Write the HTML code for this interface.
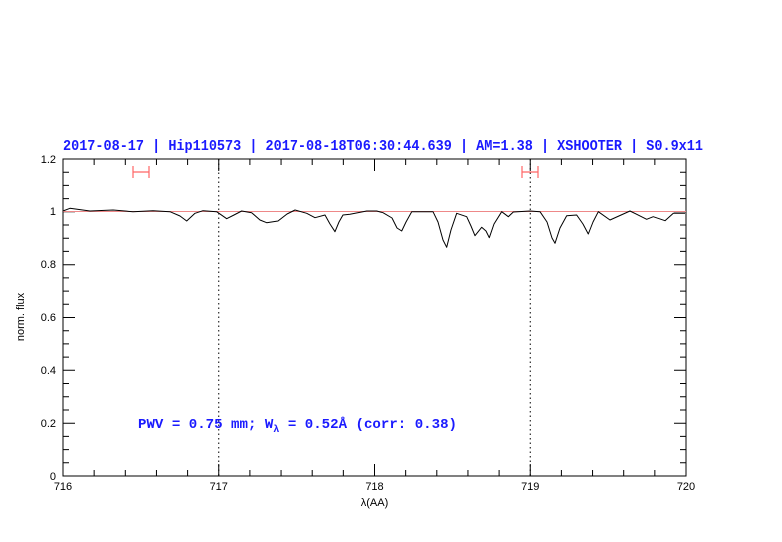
<!DOCTYPE html>
<html><head><meta charset="utf-8"><style>body{margin:0;background:#fff}svg{display:block}</style></head><body>
<svg width="782" height="542" xmlns="http://www.w3.org/2000/svg" font-family="Liberation Sans, sans-serif">
<rect width="782" height="542" fill="#fff"/>
<text x="63" y="150" fill="#1a1aff" font-family="Liberation Mono, monospace" font-size="14.5" font-weight="bold" textLength="640" lengthAdjust="spacingAndGlyphs">2017-08-17 | Hip110573 | 2017-08-18T06:30:44.639 | AM=1.38 | XSHOOTER | S0.9x11</text>
<g stroke="#000" stroke-width="1" fill="none">
<rect x="63" y="159" width="623" height="317"/>
<path id="xt" d="M63,476v-12M218.75,476v-12M374.5,476v-12M530.25,476v-12M686,476v-12M63,159v12M218.75,159v12M374.5,159v12M530.25,159v12M686,159v12"/>
<path d="M94.15,476v-6M125.3,476v-6M156.45,476v-6M187.6,476v-6M249.9,476v-6M281.05,476v-6M312.2,476v-6M343.35,476v-6M405.65,476v-6M436.8,476v-6M467.95,476v-6M499.1,476v-6M561.4,476v-6M592.55,476v-6M623.7,476v-6M654.85,476v-6M94.15,159v6M125.3,159v6M156.45,159v6M187.6,159v6M249.9,159v6M281.05,159v6M312.2,159v6M343.35,159v6M405.65,159v6M436.8,159v6M467.95,159v6M499.1,159v6M561.4,159v6M592.55,159v6M623.7,159v6M654.85,159v6"/>
<path d="M63,476h12M63,423.2h12M63,370.3h12M63,317.5h12M63,264.7h12M63,211.8h12M63,159h12M686,476h-12M686,423.2h-12M686,370.3h-12M686,317.5h-12M686,264.7h-12M686,211.8h-12M686,159h-12"/>
<path d="M63,462.8h6M63,449.6h6M63,436.4h6M63,410h6M63,396.7h6M63,383.5h6M63,357.1h6M63,343.9h6M63,330.7h6M63,304.3h6M63,291.1h6M63,277.9h6M63,251.4h6M63,238.2h6M63,225h6M63,198.6h6M63,185.4h6M63,172.2h6M686,462.8h-6M686,449.6h-6M686,436.4h-6M686,410h-6M686,396.7h-6M686,383.5h-6M686,357.1h-6M686,343.9h-6M686,330.7h-6M686,304.3h-6M686,291.1h-6M686,277.9h-6M686,251.4h-6M686,238.2h-6M686,225h-6M686,198.6h-6M686,185.4h-6M686,172.2h-6"/>
</g>
<g stroke="#000" stroke-dasharray="1.5,3" stroke-width="1"><line x1="218.75" y1="159" x2="218.75" y2="476"/><line x1="530.25" y1="159" x2="530.25" y2="476"/></g>
<line x1="63" y1="211.5" x2="686" y2="211.5" stroke="#e88" stroke-width="1"/>
<g stroke="#f66" stroke-width="1.2" fill="none"><path d="M133,166v12M149,166v12M133,172h16M522,166v12M538,166v12M522,172h16"/></g>
<polyline fill="none" stroke="#000" stroke-width="1" stroke-linejoin="round" points="63,211 70,208.3 90,211 113,210 133,211.7 153,210.7 170,211.7 180,216 186.7,221 195,213.3 203,210.7 216.7,211.7 226.7,218.7 234,215 241.7,211 251.7,212.7 260,220 266.7,222.7 278,221 287,214 295,210 306.7,213.3 315,217.7 325,215 330,224 335,231.7 339,222 343,215 350,214.3 366.7,211 376.7,211 383,212.7 392,218 397,228 401.7,231 406,222 411.7,211.7 433,211.7 438,222 443,240 446.7,247.3 451,230 456.7,213.3 466.7,216.7 471,226 475,235.7 481.7,227.3 486,231 489.3,237.7 494,224 501.7,211.7 508.3,216.7 513.3,212 530,211 540,211.7 547,222 552,238 555,243.3 560,228 566.7,215.7 576.7,215 583,224 588.3,234 593,222 598.3,211.7 610,220 630,211 646.7,219.3 653.3,216.7 665,220.7 673.3,213.3 685,213.3"/>
<g font-size="11" text-anchor="middle" fill="#000">
<text x="63" y="490">716</text><text x="218.75" y="490">717</text><text x="374.5" y="490">718</text><text x="530.25" y="490">719</text><text x="686" y="490">720</text>
<text x="374.5" y="506">λ(AA)</text>
</g>
<g font-size="11" text-anchor="end" fill="#000">
<text x="56" y="480">0</text><text x="56" y="427">0.2</text><text x="56" y="374">0.4</text><text x="56" y="321">0.6</text><text x="56" y="268">0.8</text><text x="56" y="215">1</text><text x="56" y="163">1.2</text>
</g>
<text transform="translate(24,317) rotate(-90)" font-size="11" text-anchor="middle">norm. flux</text>
<text x="138" y="428" fill="#1a1aff" font-family="Liberation Mono, monospace" font-size="14" font-weight="bold" textLength="319" lengthAdjust="spacingAndGlyphs">PWV = 0.75 mm; W<tspan font-size="10" dy="4">λ</tspan><tspan dy="-4"> = 0.52Å (corr: 0.38)</tspan></text>
</svg>
</body></html>
